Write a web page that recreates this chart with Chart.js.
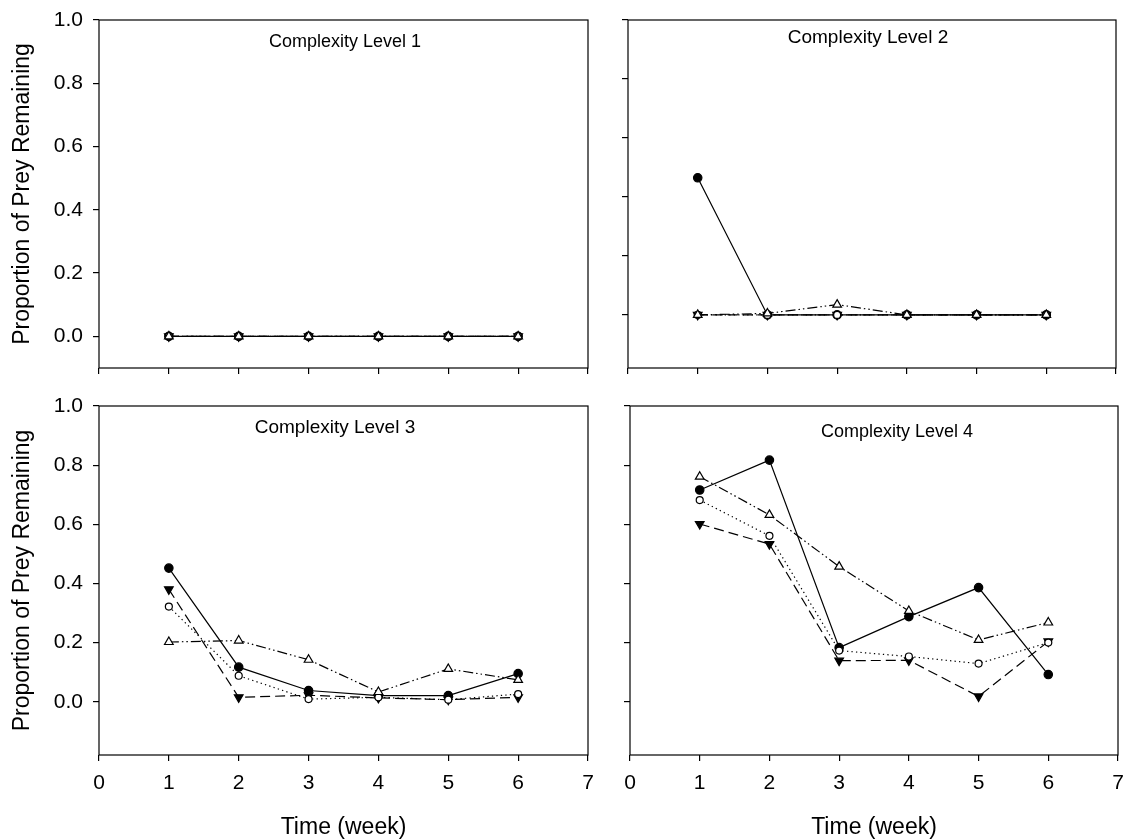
<!DOCTYPE html>
<html>
<head>
<meta charset="utf-8">
<title>Proportion of Prey Remaining by Complexity Level</title>
<script src="https://cdn.jsdelivr.net/npm/chart.js@4.4.1/dist/chart.umd.min.js"></script>
<style>
  html, body { margin: 0; padding: 0; background: #fff; }
  #page { position: relative; width: 1125px; height: 839px; overflow: hidden; }
  .panel { position: absolute; }
</style>
</head>
<body>
<div id="page">
  <div class="panel" style="left:0;top:0;width:600px;height:380px"><canvas id="lvl1"></canvas></div>
  <div class="panel" style="left:600px;top:0;width:525px;height:380px"><canvas id="lvl2"></canvas></div>
  <div class="panel" style="left:0;top:380px;width:600px;height:459px"><canvas id="lvl3"></canvas></div>
  <div class="panel" style="left:600px;top:380px;width:525px;height:459px"><canvas id="lvl4"></canvas></div>
</div>
<script>
/* ── Data ────────────────────────────────────────────────── */

const weeks = [1, 2, 3, 4, 5, 6];
const xTicks = [0, 1, 2, 3, 4, 5, 6, 7];
const yTicks = [0, 0.2, 0.4, 0.6, 0.8, 1.0];

// Complexity Level 1
const lvl1Dot     = [0, 0, 0, 0, 0, 0];
const lvl1Ring    = [0, 0, 0, 0, 0, 0];
const lvl1DownTri = [0, 0, 0, 0, 0, 0];
const lvl1UpTri   = [0, 0, 0, 0, 0, 0];

// Complexity Level 2
const lvl2Dot     = [0.465, 0, 0, 0, 0, 0];
const lvl2Ring    = [0, 0, 0, 0, 0, 0];
const lvl2DownTri = [0, 0, 0, 0, 0, 0];
const lvl2UpTri   = [0, 0.005, 0.035, 0, 0, 0];

// Complexity Level 3
const lvl3Dot     = [0.452, 0.117, 0.038, 0.021, 0.021, 0.095];
const lvl3Ring    = [0.322, 0.088, 0.009, 0.015, 0.007, 0.026];
const lvl3DownTri = [0.380, 0.015, 0.022, 0.013, 0.007, 0.015];
const lvl3UpTri   = [0.202, 0.207, 0.142, 0.033, 0.111, 0.074];

// Complexity Level 4
const lvl4Dot     = [0.716, 0.817, 0.183, 0.288, 0.386, 0.092];
const lvl4Ring    = [0.682, 0.561, 0.173, 0.153, 0.129, 0.200];
const lvl4DownTri = [0.601, 0.533, 0.139, 0.140, 0.018, 0.204];
const lvl4UpTri   = [0.761, 0.632, 0.457, 0.307, 0.209, 0.268];

/* ── Styling helpers ─────────────────────────────────────── */

const FONT = "'Liberation Sans', Arial, Helvetica, sans-serif";
const INK = '#000';

function toPoints(vals) {
  return weeks.map((w, i) => ({ x: w, y: vals[i] }));
}

// dataset 0 is painted last (on top)
function buildDatasets(dot, ring, downTri, upTri) {
  const base = { borderColor: INK, borderWidth: 1.2, pointBorderColor: INK, pointBorderWidth: 1.2, fill: false, tension: 0 };
  return [
    { ...base, label: 'open triangle', data: toPoints(upTri), pointStyle: 'triangle', pointRadius: 5,
      pointBackgroundColor: '#fff', borderDash: [10, 3, 1.5, 3, 1.5, 3] },
    { ...base, label: 'open circle', data: toPoints(ring), pointStyle: 'circle', pointRadius: 3.5,
      pointBackgroundColor: '#fff', borderDash: [1.3, 3.2] },
    { ...base, label: 'filled circle', data: toPoints(dot), pointStyle: 'circle', pointRadius: 4.2,
      pointBackgroundColor: INK },
    { ...base, label: 'filled triangle', data: toPoints(downTri), pointStyle: 'triangle', pointRotation: 180,
      pointRadius: 5, pointBackgroundColor: INK, borderDash: [10, 5] },
  ];
}

const gridOpts = { display: true, drawOnChartArea: false, drawTicks: true, tickLength: 6, color: INK, lineWidth: 1.2 };

/* ── Plugins ─────────────────────────────────────────────── */

const framePlugin = {
  id: 'frame',
  afterDraw(chart) {
    const { ctx, chartArea: a } = chart;
    ctx.save();
    ctx.strokeStyle = INK;
    ctx.lineWidth = 1.2;
    ctx.strokeRect(a.left, a.top, a.right - a.left, a.bottom - a.top);
    ctx.restore();
  },
};

const panelTitlePlugin = {
  id: 'panelTitle',
  afterDraw(chart, _args, opts) {
    if (!opts || !opts.text) return;
    const { ctx } = chart;
    ctx.save();
    ctx.fillStyle = INK;
    ctx.font = `${opts.size}px ${FONT}`;
    ctx.textAlign = 'center';
    ctx.textBaseline = 'middle';
    ctx.fillText(opts.text, opts.x, opts.y);
    ctx.restore();
  },
};

/* ── Panel factory ───────────────────────────────────────── */

function drawPanel(p) {
  new Chart(document.getElementById(p.id), {
    type: 'line',
    data: { datasets: buildDatasets(...p.series) },
    plugins: [framePlugin, panelTitlePlugin],
    options: {
      responsive: true,
      maintainAspectRatio: false,
      animation: false,
      events: [],
      layout: { padding: { top: p.padTop, right: p.padRight, bottom: 0, left: 0 } },
      plugins: {
        legend: { display: false },
        tooltip: { enabled: false },
        panelTitle: p.title,
      },
      scales: {
        x: {
          type: 'linear',
          min: 0,
          max: 7,
          afterBuildTicks: s => { s.ticks = xTicks.map(v => ({ value: v })); },
          // fixed box size; end labels must not push the plot area in
          afterFit: s => { s.height = p.xHeight; s.paddingLeft = 0; s.paddingRight = 0; },
          grid: gridOpts,
          border: { display: false },
          ticks: {
            display: p.bottomRow,
            autoSkip: false,
            maxRotation: 0,
            padding: 10,
            color: INK,
            font: { family: FONT, size: 21 },
            callback: v => String(v),
          },
          title: {
            display: p.bottomRow,
            text: 'Time (week)',
            color: INK,
            font: { family: FONT, size: 23, lineHeight: 1 },
            padding: { top: 0, bottom: 0 },
          },
        },
        y: {
          type: 'linear',
          min: p.yMin,
          max: 1.0,
          afterBuildTicks: s => { s.ticks = yTicks.map(v => ({ value: v })); },
          afterFit: s => { s.width = p.yWidth; s.paddingTop = 0; s.paddingBottom = 0; },
          grid: gridOpts,
          border: { display: false },
          ticks: {
            display: p.leftCol,
            padding: 10,
            color: INK,
            font: { family: FONT, size: 21 },
            callback: v => Number(v).toFixed(1),
          },
          title: {
            display: p.leftCol,
            text: 'Proportion of Prey Remaining',
            color: INK,
            font: { family: FONT, size: 23, lineHeight: 1 },
            padding: { top: 11, bottom: 0 },
          },
        },
      },
    },
  });
}

drawPanel({
  id: 'lvl1', series: [lvl1Dot, lvl1Ring, lvl1DownTri, lvl1UpTri],
  yMin: -0.1, leftCol: true, bottomRow: false,
  yWidth: 99, xHeight: 12, padTop: 20, padRight: 12,
  title: { text: 'Complexity Level 1', x: 345, y: 42, size: 18 },
});

drawPanel({
  id: 'lvl2', series: [lvl2Dot, lvl2Ring, lvl2DownTri, lvl2UpTri],
  yMin: -0.18, leftCol: false, bottomRow: false,
  yWidth: 28, xHeight: 12, padTop: 20, padRight: 9,
  title: { text: 'Complexity Level 2', x: 268, y: 38, size: 19 },
});

drawPanel({
  id: 'lvl3', series: [lvl3Dot, lvl3Ring, lvl3DownTri, lvl3UpTri],
  yMin: -0.18, leftCol: true, bottomRow: true,
  yWidth: 99, xHeight: 84, padTop: 26, padRight: 12,
  title: { text: 'Complexity Level 3', x: 335, y: 48, size: 19 },
});

drawPanel({
  id: 'lvl4', series: [lvl4Dot, lvl4Ring, lvl4DownTri, lvl4UpTri],
  yMin: -0.18, leftCol: false, bottomRow: true,
  yWidth: 30, xHeight: 84, padTop: 26, padRight: 7,
  title: { text: 'Complexity Level 4', x: 297, y: 52, size: 18 },
});
</script>
</body>
</html>
